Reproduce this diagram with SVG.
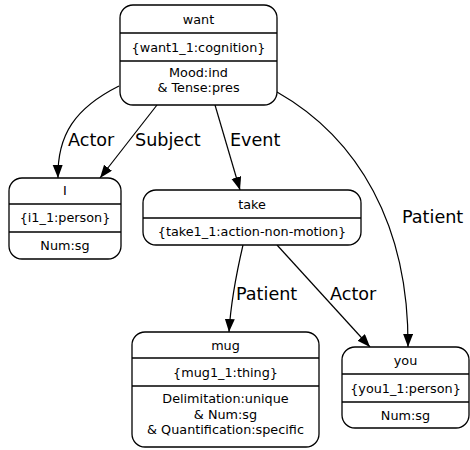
<svg xmlns="http://www.w3.org/2000/svg" width="470" height="450" viewBox="0 0 470 450">
<style>
.box{fill:#fff;stroke:#000;stroke-width:1.3}
.div{stroke:#000;stroke-width:1.3}
.t{font-family:"DejaVu Sans",sans-serif;font-size:12.8px;fill:#000;text-anchor:middle}
.lbl{font-family:"DejaVu Sans",sans-serif;font-size:17.6px;fill:#000}
.e{fill:none;stroke:#000;stroke-width:1.2;marker-end:url(#ah)}
</style>
<defs>
<marker id="ah" markerWidth="14" markerHeight="12" refX="13" refY="5" orient="auto" markerUnits="userSpaceOnUse">
<path d="M0,0 L13,5 L0,10 z" fill="#000"/>
</marker>
</defs>
<rect width="470" height="450" fill="#fff"/>
<g id="edges">
<path class="e" d="M119,86 C75,108 57,135 58,178"/>
<path class="e" d="M157,105 L100,178"/>
<path class="e" d="M215,105 L240,190"/>
<path class="e" d="M277,92 C358,138 409,225 408,347"/>
<path class="e" d="M243,245 C236,275 231,300 229,332"/>
<path class="e" d="M277,245 L370,347"/>
<text class="lbl" x="68" y="146">Actor</text>
<text class="lbl" x="135" y="146">Subject</text>
<text class="lbl" x="230" y="146">Event</text>
<text class="lbl" x="402" y="223">Patient</text>
<text class="lbl" x="236" y="300">Patient</text>
<text class="lbl" x="330" y="300">Actor</text>
</g>
<g id="want">
<rect class="box" x="120" y="5" width="157" height="100" rx="13"/>
<line class="div" x1="120" y1="33" x2="277" y2="33"/>
<line class="div" x1="120" y1="61" x2="277" y2="61"/>
<text class="t" x="198.5" y="23.5">want</text>
<text class="t" x="198.5" y="51.5">{want1_1:cognition}</text>
<text class="t" x="198.5" y="77">Mood:ind</text>
<text class="t" x="198.5" y="92">&amp; Tense:pres</text>
</g>
<g id="I">
<rect class="box" x="9" y="178" width="112" height="81" rx="13"/>
<line class="div" x1="9" y1="204" x2="121" y2="204"/>
<line class="div" x1="9" y1="232" x2="121" y2="232"/>
<text class="t" x="65" y="195">I</text>
<text class="t" x="65" y="222">{i1_1:person}</text>
<text class="t" x="65" y="250">Num:sg</text>
</g>
<g id="take">
<rect class="box" x="143" y="190" width="218" height="55" rx="13"/>
<line class="div" x1="143" y1="218" x2="361" y2="218"/>
<text class="t" x="252" y="208.5">take</text>
<text class="t" x="252" y="236">{take1_1:action-non-motion}</text>
</g>
<g id="mug">
<rect class="box" x="132" y="332" width="187" height="115" rx="13"/>
<line class="div" x1="132" y1="358" x2="319" y2="358"/>
<line class="div" x1="132" y1="386" x2="319" y2="386"/>
<text class="t" x="225.5" y="349.5">mug</text>
<text class="t" x="225.5" y="376.5">{mug1_1:thing}</text>
<text class="t" x="225.5" y="403">Delimitation:unique</text>
<text class="t" x="225.5" y="418.5">&amp; Num:sg</text>
<text class="t" x="225.5" y="434">&amp; Quantification:specific</text>
</g>
<g id="you">
<rect class="box" x="342" y="347" width="127" height="81" rx="13"/>
<line class="div" x1="342" y1="374" x2="469" y2="374"/>
<line class="div" x1="342" y1="402" x2="469" y2="402"/>
<text class="t" x="405.5" y="365">you</text>
<text class="t" x="405.5" y="392.5">{you1_1:person}</text>
<text class="t" x="405.5" y="419.5">Num:sg</text>
</g>
</svg>
